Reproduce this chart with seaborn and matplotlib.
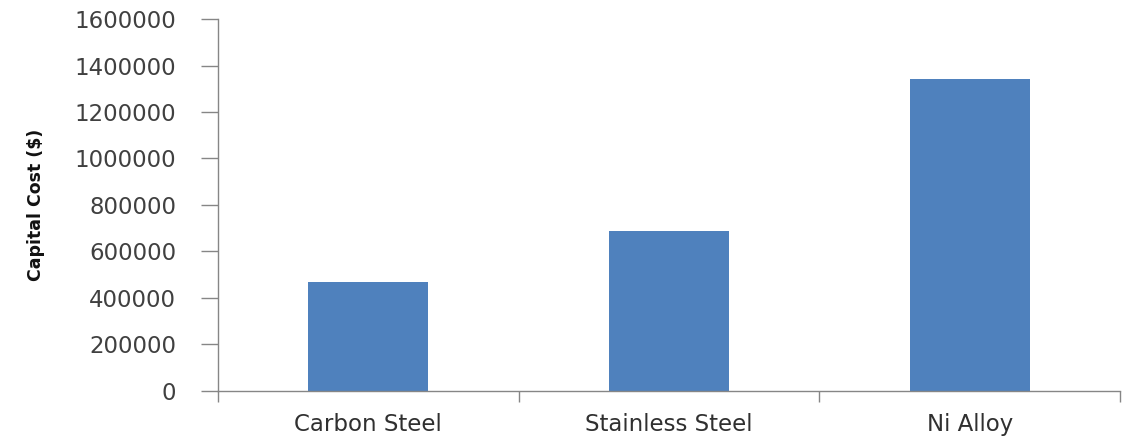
import matplotlib
matplotlib.use("Agg")
import matplotlib.pyplot as plt
import seaborn as sns
import pandas as pd

categories = ["Carbon Steel", "Stainless Steel", "Ni Alloy"]
capital_cost = [470000, 690000, 1340000]
y_ticks = [0, 200000, 400000, 600000, 800000, 1000000, 1200000, 1400000, 1600000]

df = pd.DataFrame({"Material": categories, "Cost": capital_cost})

sns.set_theme(style="white")
plt.rcParams["font.family"] = ["DejaVu Sans"]

fig = plt.figure(figsize=(11.26, 4.40), dpi=100)
ax = fig.add_axes([0.1936, 0.1114, 0.8011, 0.8454])

sns.barplot(data=df, x="Material", y="Cost", color="#4F81BD", width=0.4,
            saturation=1, ax=ax, edgecolor="none")

ax.set_ylim(0, 1600000)
ax.set_xlim(-0.5, 2.5)
ax.set_yticks(y_ticks)
ax.set_yticklabels([str(v) for v in y_ticks], fontsize=16.5, color="#404040")
ax.tick_params(axis="y", which="major", left=True, length=12, width=1,
               color="#868686", direction="out", pad=18)

ax.set_xticks([0, 1, 2])
ax.set_xticklabels(categories, fontsize=16.5, color="#303030")
ax.tick_params(axis="x", which="major", length=0, pad=16)

# category boundary tick marks
ax.set_xticks([-0.5, 0.5, 1.5, 2.5], minor=True)
ax.tick_params(axis="x", which="minor", bottom=True, length=8, color="#868686",
               width=1, direction="out")

for s in ["top", "right"]:
    ax.spines[s].set_visible(False)
for s in ["left", "bottom"]:
    ax.spines[s].set_color("#868686")
    ax.spines[s].set_linewidth(1)

ax.set_xlabel("")
ax.set_ylabel("Capital Cost ($)", fontsize=12.5, color="#111111", fontweight="bold",
              family=["DejaVu Sans Condensed", "Liberation Sans Narrow", "DejaVu Sans"])
ax.yaxis.set_label_coords(-0.192, 0.5)

fig.savefig("out.png", dpi=100)
